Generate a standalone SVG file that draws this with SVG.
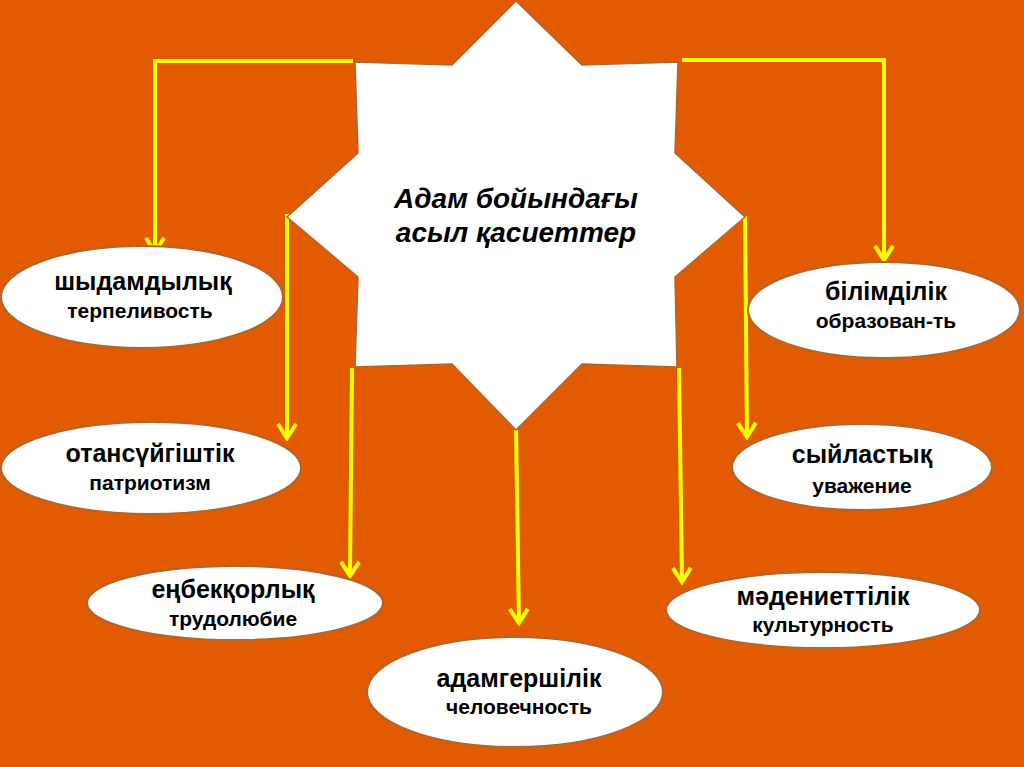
<svg xmlns="http://www.w3.org/2000/svg" width="1024" height="767" viewBox="0 0 1024 767">
<defs>
<marker id="arr" viewBox="-2 -12 19 24" refX="14" refY="0" markerWidth="19" markerHeight="24" markerUnits="userSpaceOnUse" orient="auto">
<path d="M0,-9 L14,0 L0,9" fill="none" stroke="#ffff00" stroke-width="4" stroke-linejoin="miter"/>
</marker>
</defs>
<style>
.bg{fill:#e35b00}
.star{fill:#ffffff;stroke:#b0642e;stroke-width:1.5}
.ell{fill:#ffffff;stroke:#b0642e;stroke-width:2}
.conn{fill:none;stroke:#ffff00;stroke-width:4;marker-end:url(#arr)}
.t1{font-family:"Liberation Sans",Arial,sans-serif;font-weight:bold;font-size:25px;fill:#000;text-anchor:middle}
.t2{font-family:"Liberation Sans",Arial,sans-serif;font-weight:bold;font-size:21px;fill:#000;text-anchor:middle}
.tc{font-family:"Liberation Sans",Arial,sans-serif;font-weight:bold;font-style:italic;font-size:28px;fill:#000;text-anchor:middle}
</style>
<rect class="bg" x="0" y="0" width="1024" height="767"/>
<g id="connectors">
<polyline class="conn" points="353,61 155,61 155,252"/>
<polyline class="conn" points="682,60 884,60 884,260"/>
<line class="conn" x1="287" y1="214" x2="287" y2="438"/>
<line class="conn" x1="352" y1="368" x2="350" y2="576"/>
<line class="conn" x1="516" y1="430" x2="519" y2="623"/>
<line class="conn" x1="679" y1="368" x2="682" y2="582"/>
<line class="conn" x1="745" y1="216" x2="747" y2="437"/>
</g>
<g id="center">
<polygon class="star" points="516,1 582,65 678,62 675,153 745,217 675,277 677,367 582,364 516,430 452,364 355,367 358,277 287,217 358,153 355,62 452,65"/>
<text class="tc" x="516" y="208">Адам бойындағы</text>
<text class="tc" x="516" y="242">асыл қасиеттер</text>
</g>
<g id="n1">
<ellipse class="ell" cx="142" cy="297" rx="141" ry="51"/>
<text class="t1" x="143" y="290">шыдамдылық</text>
<text class="t2" x="140" y="318">терпеливость</text>
</g>
<g id="n2">
<ellipse class="ell" cx="884" cy="310" rx="136" ry="48"/>
<text class="t1" x="886" y="300">білімділік</text>
<text class="t2" x="886" y="328">образован-ть</text>
</g>
<g id="n3">
<ellipse class="ell" cx="151" cy="468" rx="150" ry="46"/>
<text class="t1" x="150" y="462">отансүйгіштік</text>
<text class="t2" x="150" y="490">патриотизм</text>
</g>
<g id="n4">
<ellipse class="ell" cx="862" cy="467" rx="130" ry="43"/>
<text class="t1" x="862" y="463">сыйластық</text>
<text class="t2" x="862" y="493">уважение</text>
</g>
<g id="n5">
<ellipse class="ell" cx="235" cy="603" rx="148" ry="37"/>
<text class="t1" x="233" y="598">еңбекқорлық</text>
<text class="t2" x="233" y="626">трудолюбие</text>
</g>
<g id="n6">
<ellipse class="ell" cx="823" cy="610" rx="157" ry="38"/>
<text class="t1" x="823" y="605">мәдениеттілік</text>
<text class="t2" x="823" y="632">культурность</text>
</g>
<g id="n7">
<ellipse class="ell" cx="515" cy="692" rx="148" ry="55"/>
<text class="t1" x="519" y="687">адамгершілік</text>
<text class="t2" x="519" y="714">человечность</text>
</g>
</svg>
